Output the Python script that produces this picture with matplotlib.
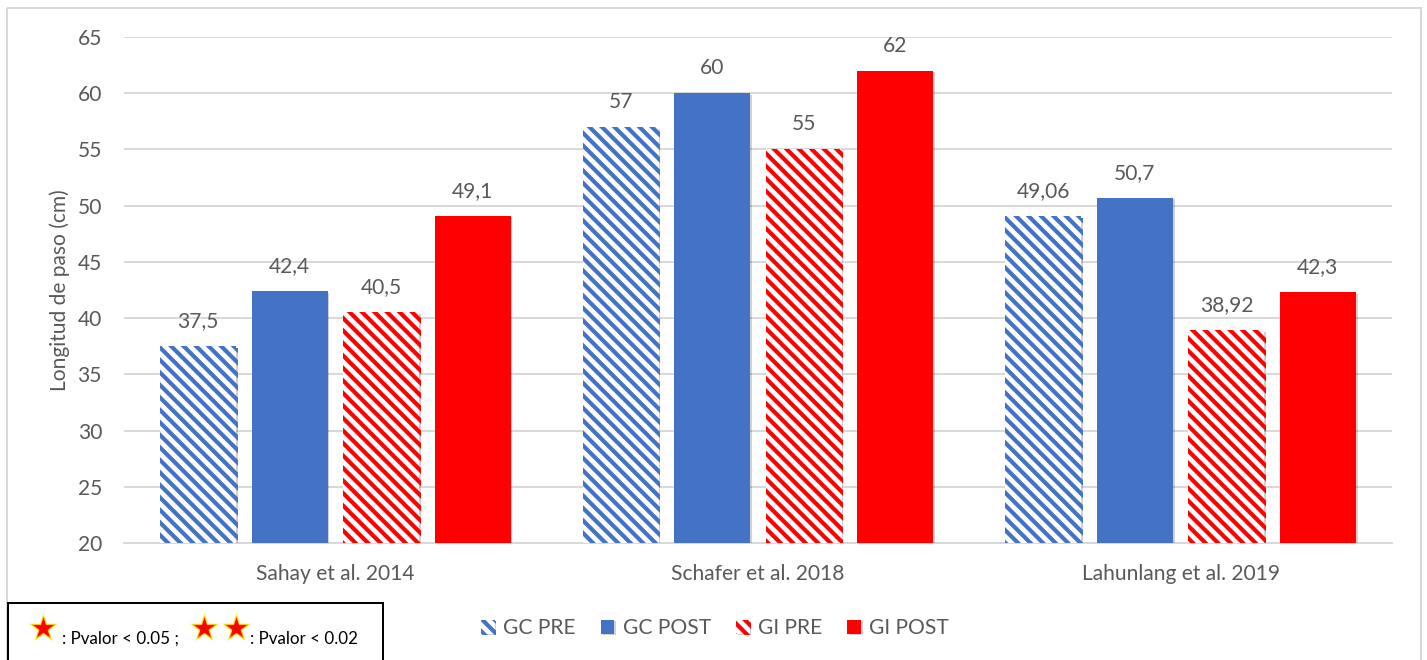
import matplotlib.pyplot as plt
import matplotlib.patheffects as pe
import numpy as np
from matplotlib.patches import Rectangle

W, H, DPI = 1427, 660, 75

studies = ["Sahay et al. 2014", "Schafer et al. 2018", "Lahunlang et al. 2019"]
gc_pre = [37.5, 57, 49.06]
gc_post = [42.4, 60, 50.7]
gi_pre = [40.5, 55, 38.92]
gi_post = [49.1, 62, 42.3]
value_text = [
    ["37,5", "57", "49,06"],
    ["42,4", "60", "50,7"],
    ["40,5", "55", "38,92"],
    ["49,1", "62", "42,3"],
]
series_names = ["GC PRE", "GC POST", "GI PRE", "GI POST"]
yticks = [20, 25, 30, 35, 40, 45, 50, 55, 60, 65]

BLUE = "#4472C4"
RED = "#FF0000"
GREY_TXT = "#595959"
GRID = "#D9D9D9"
FS = 21

plt.rcParams["font.family"] = ["Lato", "DejaVu Sans"]
plt.rcParams["hatch.linewidth"] = 4.0


def pt(px):
    return px * 72 / DPI


fig = plt.figure(figsize=(W / DPI, H / DPI), dpi=DPI)
ax = fig.add_axes([124 / W, 1 - 543 / H, (1392 - 124) / W, (543 - 37) / H])

x = np.arange(len(studies))
width = 0.18
step = 0.2165
styles = [
    dict(facecolor="white", edgecolor=BLUE, hatch="\\\\"),
    dict(facecolor=BLUE, edgecolor=BLUE),
    dict(facecolor="white", edgecolor=RED, hatch="\\\\"),
    dict(facecolor=RED, edgecolor=RED),
]
shadow = [pe.SimplePatchShadow(offset=(1.5, -1.5), shadow_rgbFace="black", alpha=0.18), pe.Normal()]

handles = []
for i, (vals, st) in enumerate(zip([gc_pre, gc_post, gi_pre, gi_post], styles)):
    pos = x + (i - 1.5) * step
    bars = ax.bar(pos, np.array(vals) - 20, width, bottom=20, linewidth=0,
                  label=series_names[i], zorder=3, **st)
    for b in bars:
        b.set_path_effects(shadow)
    handles.append(bars)
    for p, v, t in zip(pos, vals, value_text[i]):
        ax.annotate(t, (p, v), xytext=(0, pt(25)), textcoords="offset points",
                    ha="center", va="center", fontsize=pt(FS), color=GREY_TXT)

ax.set_xlim(-0.5, 2.5)
ax.set_ylim(20, 65)
ax.set_yticks(yticks)
ax.set_xticks(x)
ax.set_xticklabels(studies)
ax.yaxis.grid(True, color=GRID, linewidth=pt(2))
ax.set_axisbelow(True)
for s in ["top", "right", "left"]:
    ax.spines[s].set_visible(False)
ax.spines["bottom"].set_color(GRID)
ax.spines["bottom"].set_linewidth(pt(2))
ax.tick_params(axis="both", length=0, labelsize=pt(FS), labelcolor=GREY_TXT)
ax.tick_params(axis="y", pad=pt(22))
ax.tick_params(axis="x", pad=pt(21))
ax.set_ylabel("Longitud de paso (cm)", fontsize=pt(FS), color=GREY_TXT)
ax.yaxis.set_label_coords(-(124 - 70) / (1392 - 124), 0.5)

fig.legend(handles=handles, labels=series_names, loc="center",
           bbox_to_anchor=(715 / W, 1 - 628 / H), ncol=4, frameon=False,
           fontsize=pt(FS), labelcolor=GREY_TXT, handlelength=0.65,
           handleheight=0.65, handletextpad=0.4, columnspacing=1.2)

# overlay in pixel coordinates for the frame and the significance key
over = fig.add_axes([0, 0, 1, 1], zorder=-1)
over.set_xlim(0, W)
over.set_ylim(H, 0)
over.axis("off")
over.add_patch(Rectangle((7, 8), 1421 - 7, H + 20, fill=False, edgecolor=GRID, linewidth=pt(2)))

key = fig.add_axes([0, 0, 1, 1], zorder=5)
key.set_xlim(0, W)
key.set_ylim(H, 0)
key.axis("off")
key.add_patch(Rectangle((8, 603), 383 - 8, 80, facecolor="white", edgecolor="black", linewidth=pt(2)))
star_x = [43, 204, 236]
key.scatter(star_x, [628] * 3, marker="*", s=pt(32) ** 2, color="#FFF200", alpha=0.55, linewidths=0)
key.scatter(star_x, [628] * 3, marker="*", s=pt(25) ** 2, color=RED, edgecolors="#FFD000", linewidths=0.8)
key.text(62, 639, ": Pvalor < 0.05 ;", fontsize=pt(17), color="black", va="center", ha="left")
key.text(250, 639, ": Pvalor < 0.02", fontsize=pt(17), color="black", va="center", ha="left")

fig.savefig("out.png", dpi=DPI)
